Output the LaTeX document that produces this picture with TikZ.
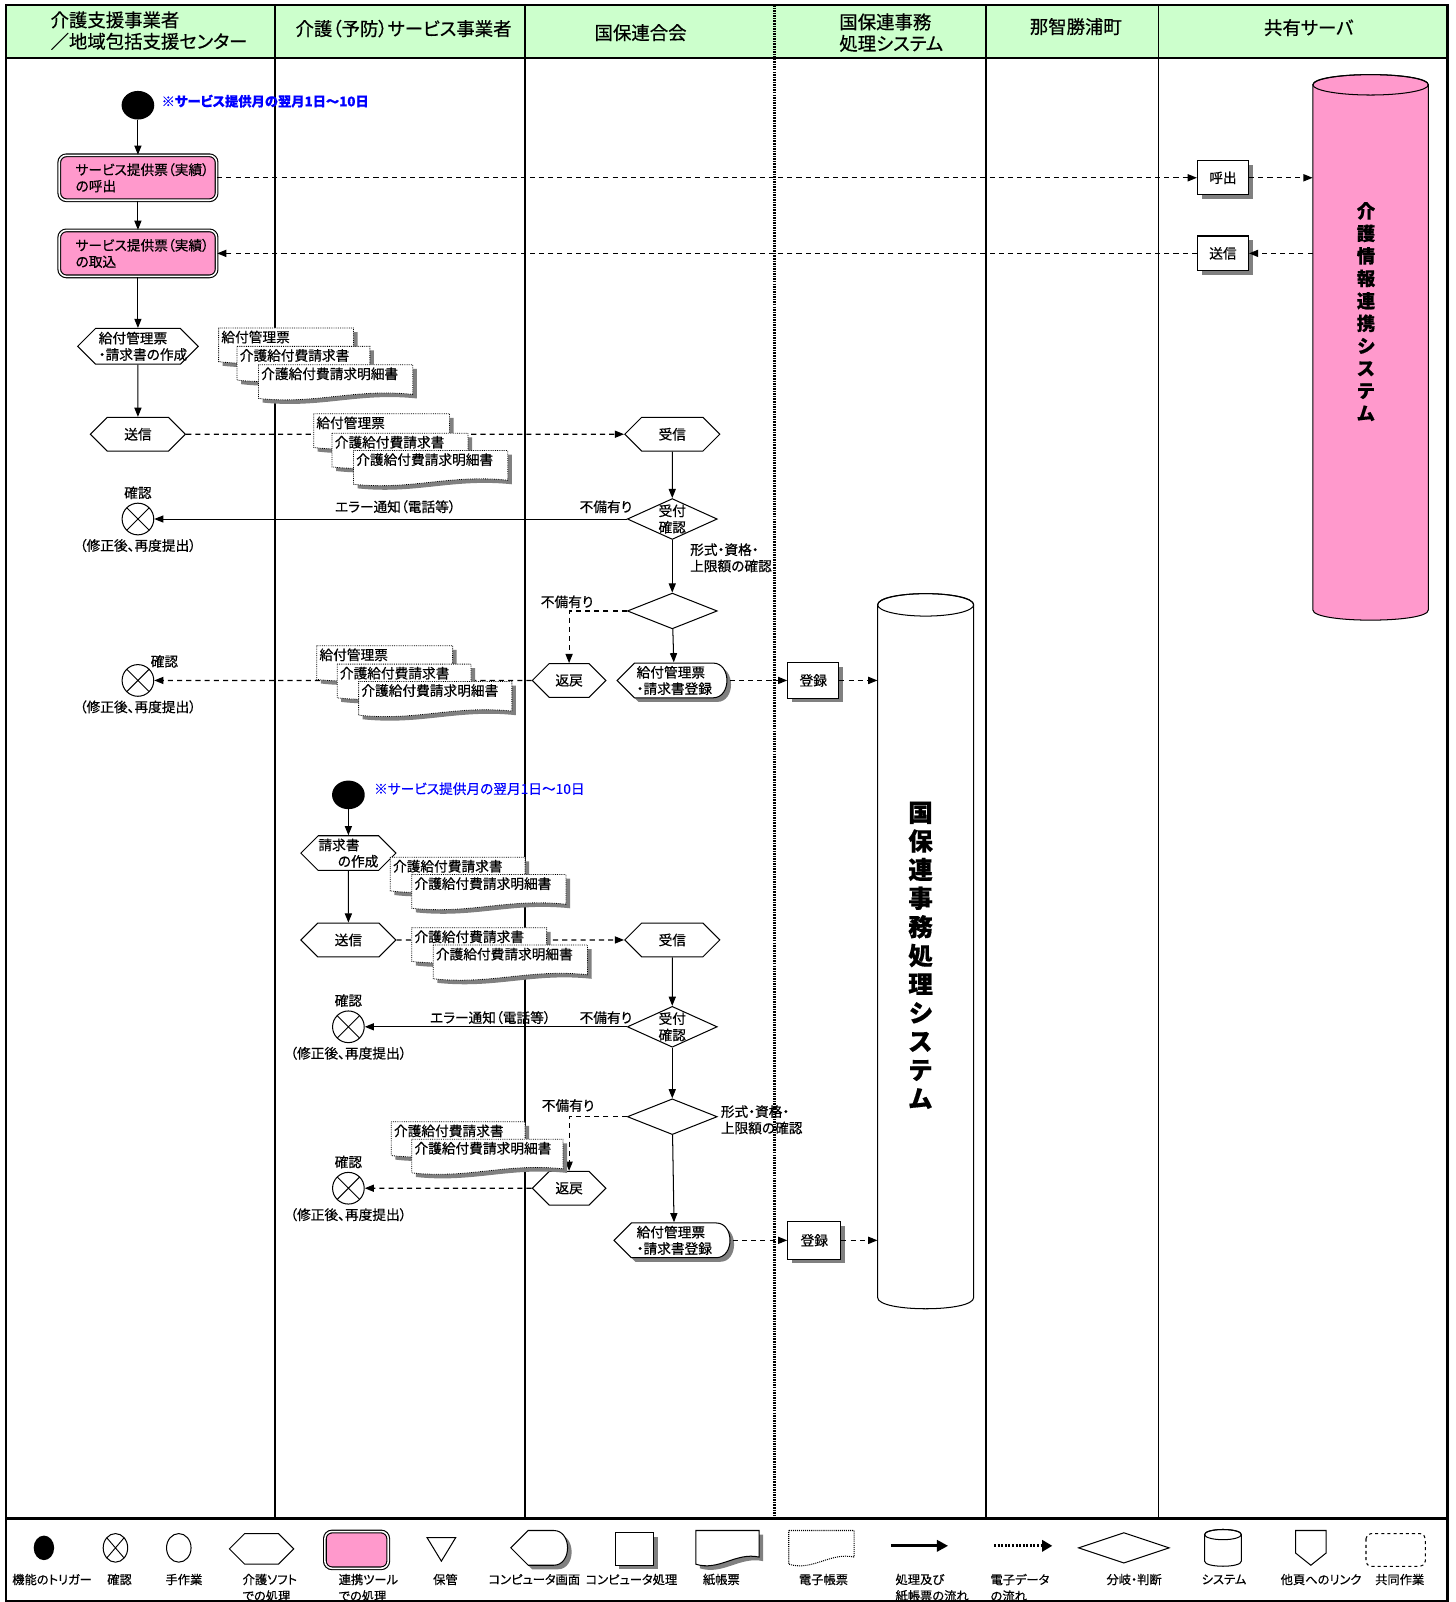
\documentclass[tikz,border=0pt]{standalone}
\usepackage{fontspec}
\setmainfont{Noto Sans CJK JP}[RawFeature=+palt, FakeBold=0.5]
\usetikzlibrary{arrows.meta, positioning, shapes.geometric, shapes.symbols, shadows}

\definecolor{headgreen}{HTML}{CCFFCC}
\definecolor{toolpink}{HTML}{FF99CC}
\definecolor{noteblue}{HTML}{0000FF}

\tikzset{
  lane/.style={line width=2pt},
  flow/.style={->, line width=1pt},
  eflow/.style={->, line width=1.1pt, dash pattern=on 5pt off 4pt},
  hdr/.style={font=\fontsize{18}{21}\selectfont, align=center},
  note/.style={text=noteblue, anchor=west, inner sep=0pt},
  trig/.style={fill=black, ellipse, minimum width=32pt, minimum height=28pt, inner sep=0pt},
  chk/.style={draw, ellipse, line width=1pt, minimum width=31pt, minimum height=31pt, inner sep=0pt,
    path picture={\draw[line width=0.9pt] (path picture bounding box.north west) -- (path picture bounding box.south east)
      (path picture bounding box.north east) -- (path picture bounding box.south west);}},
  softhex/.style={draw, line width=1pt, signal, signal to=east and west, signal pointer angle=90,
    minimum width=93pt, minimum height=33pt, inner sep=0pt},
  judge/.style={draw, diamond, line width=1pt, minimum width=88pt, minimum height=40pt, inner sep=0pt},
  toolbox/.style={draw, fill=toolpink, double=white, double distance=1.5pt, line width=1.1pt,
    rounded corners=7pt, minimum width=154pt, minimum height=44pt, align=left, inner sep=0pt},
  procbox/.style={draw, fill=white, line width=1pt, minimum width=50pt, minimum height=35pt, inner sep=0pt,
    drop shadow={shadow xshift=4pt, shadow yshift=-4pt, fill=black!50, opacity=1}},
  eformline/.style={densely dotted, line width=0.8pt, fill=white,
    drop shadow={shadow xshift=4pt, shadow yshift=-4pt, fill=black!50, opacity=1}},
  eformtext/.style={anchor=north west, inner sep=1.5pt},
  displine/.style={line width=1pt, fill=white,
    drop shadow={shadow xshift=4pt, shadow yshift=-4pt, fill=black!50, opacity=1}},
  disptext/.style={minimum height=35pt, inner sep=0pt, align=left},
  vtext/.style={font=\bfseries\fontsize{24}{28}\selectfont, align=center},
  lgtext/.style={font=\fontsize{12}{16}\selectfont},
}

\begin{document}
\begin{tikzpicture}[x=1pt, y=-1pt, font=\fontsize{13.4}{16}\selectfont, >={Triangle[length=9pt, width=7pt]}]

% paper form: name, left, top, width, text
\def\eform#1#2#3#4#5{%
  \draw[eformline] (#2,#3) -- (#2+#4,#3) -- (#2+#4,#3+29)
    .. controls (#2+0.62*#4,#3+23) and (#2+0.38*#4,#3+39) .. (#2,#3+33) -- cycle;
  \node[eformtext] (#1) at (#2+1,#3+1) {#5};
}
% screen shape: name, centre x, centre y, width, text
\def\dispform#1#2#3#4#5{%
  \draw[displine] (#2-#4/2,#3) -- (#2-#4/2+17,#3-17) -- (#2+#4/2-14,#3-17)
    .. controls (#2+#4/2+4,#3-17) and (#2+#4/2+4,#3+17) .. (#2+#4/2-14,#3+17)
    -- (#2-#4/2+17,#3+17) -- cycle;
  \node[disptext, minimum width=#4pt] (#1) at (#2+2,#3) {#5};
}
% system drum: name, centre x, centre y, width, height, ry, fill
\def\sysdrum#1#2#3#4#5#6#7{%
  \node[minimum width=#4pt, minimum height=#5pt, inner sep=0pt] (#1) at (#2,#3) {};
  \draw[line width=1pt, fill=#7] (#2-#4/2,#3-#5/2+#6) -- (#2-#4/2,#3+#5/2-#6)
    .. controls (#2-#4/2,#3+#5/2+0.33*#6) and (#2+#4/2,#3+#5/2+0.33*#6) .. (#2+#4/2,#3+#5/2-#6)
    -- (#2+#4/2,#3-#5/2+#6)
    .. controls (#2+#4/2,#3-#5/2-0.33*#6) and (#2-#4/2,#3-#5/2-0.33*#6) .. (#2-#4/2,#3-#5/2+#6) -- cycle;
  \draw[line width=1pt] (#2,#3-#5/2+#6) ellipse [x radius=#4/2, y radius=#6];
}

\useasboundingbox (0,0) rectangle (1425,1568);

% header band
\fill[headgreen] (6,5) rectangle (1417,57);
\node[hdr, align=left, anchor=west] (hd1) at (46,30) {介護支援事業者\\／地域包括支援センター};
\node[hdr] (hd2) at (395,28) {介護（予防）サービス事業者};
\node[hdr] (hd3) at (627,32) {国保連合会};
\node[hdr, align=left, anchor=west] (hd4) at (818,32) {国保連事務\\処理システム};
\node[hdr] (hd5) at (1053,26) {那智勝浦町};
\node[hdr] (hd6) at (1281,27) {共有サーバ};

% frame and lanes
\draw[line width=2.5pt] (6,5) rectangle (1417,1567);
\draw[lane] (6,57) -- (1417,57);
\draw[line width=2.5pt] (6,1486) -- (1417,1486);
\draw[lane] (269,5) -- (269,1486);
\draw[lane] (514,5) -- (514,1486);
\draw[line width=2.5pt, dash pattern=on 1.5pt off 1pt] (758,5) -- (758,1486);
\draw[lane] (965,5) -- (965,1486);
\draw[line width=1pt] (1134,5) -- (1134,1486);

% systems
\sysdrum{ksys}{1341.5}{340}{113}{534}{10}{toolpink}
\node[vtext, font=\bfseries\fontsize{18}{22}\selectfont] (ksystxt) at (1337,305) {介\\護\\情\\報\\連\\携\\シ\\ス\\テ\\ム};
\sysdrum{kdb}{906}{931}{94}{700}{11}{white}
\node[vtext] (kdbtxt) at (901,935) {国\\保\\連\\事\\務\\処\\理\\シ\\ス\\テ\\ム};

% upper flow
\node[trig] (st1) at (135,103) {};
\node[note, font=\bfseries\fontsize{13}{16}\selectfont] (nt1) at (158,99) {※サービス提供月の翌月1日～10日};
\node[toolbox, text width=122pt] (call1) at (135,174) {サービス提供票（実績）\\の呼出};
\node[toolbox, text width=122pt, minimum height=45pt] (take1) at (135,248) {サービス提供票（実績）\\の取込};
\node[softhex, minimum width=118pt, minimum height=35pt,
  label={[align=left, xshift=5pt]center:{給付管理票\\・請求書の作成}}] (make1) at (135,339) {};
\node[softhex] (send1) at (135,425) {送信};
\node[softhex] (recv1) at (658,425) {受信};
\node[judge, label={[align=center]center:{受付\\確認}}] (judge1) at (658,508) {};
\node[chk, label={above:確認}, label={below:（修正後、再度提出）}] (chk1) at (135,508) {};
\node[judge, minimum height=35pt] (judge2) at (658,598) {};
\node[softhex, minimum width=72pt] (back1) at (557,666) {返戻};
\dispform{disp1}{658}{666}{108}{給付管理票\\・請求書登録}
\node[procbox] (reg1) at (796,666) {登録};
\node[chk, label={[anchor=south west, inner sep=1pt]north east:確認}, label={below:（修正後、再度提出）}] (chk2) at (135,666) {};

\node (err1) at (387,496) {エラー通知（電話等）};
\node (ng1) at (593,496) {不備有り};
\node[anchor=west, align=left] (cond1) at (672,546) {形式・資格・\\上限額の確認};
\node (ng2) at (555,589) {不備有り};

% shared server
\node[procbox, minimum height=33pt] (srvcall) at (1197,174) {呼出};
\node[procbox, minimum height=34pt] (srvsend) at (1197,248) {送信};

% lower flow
\node[trig] (st2) at (341,778) {};
\node[note] (nt2) at (366,772) {※サービス提供月の翌月1日～10日};
\node[softhex, minimum height=34pt,
  label={[align=left]center:{請求書\\\hspace*{19pt}の作成}}] (make2) at (341,835) {};
\node[softhex] (send2) at (341,920) {送信};
\node[softhex] (recv2) at (658,920) {受信};
\node[judge, label={[align=center]center:{受付\\確認}}] (judge3) at (658,1005) {};
\node[chk, label={above:確認}, label={below:（修正後、再度提出）}] (chk3) at (341,1005) {};
\node[judge, minimum height=35pt] (judge4) at (658,1093) {};
\node[softhex, minimum width=72pt] (back2) at (557,1163) {返戻};
\node[chk, label={above:確認}, label={below:（修正後、再度提出）}] (chk4) at (341,1163) {};
\dispform{disp2}{658}{1214}{114}{給付管理票\\・請求書登録}
\node[procbox, minimum width=52pt, minimum height=37pt] (reg2) at (797,1214) {登録};

\node (err2) at (480,996) {エラー通知（電話等）};
\node (ng3) at (593,996) {不備有り};
\node[anchor=west, align=left] (cond2) at (702,1096) {形式・資格・\\上限額の確認};
\node (ng4) at (556,1082) {不備有り};

% connectors upper
\draw[flow] (st1) -- (call1);
\draw[flow] (call1) -- (take1);
\draw[flow] (take1) -- (make1);
\draw[flow] (make1) -- (send1);
\draw[eflow] (send1) -- (recv1);
\draw[flow] (recv1) -- (judge1);
\draw[flow] (judge1) -- (chk1);
\draw[flow] (judge1) -- (judge2);
\draw[eflow] (judge2.west) -| (back1.north);
\draw[flow] (judge2) -- (disp1);
\draw[eflow] (disp1) -- (reg1);
\draw[eflow] (reg1) -- (reg1 -| kdb.west);
\draw[eflow] (back1) -- (chk2);
\draw[eflow] (call1) -- (srvcall);
\draw[eflow] (srvcall) -- (srvcall -| ksys.west);
\draw[eflow] (srvsend -| ksys.west) -- (srvsend);
\draw[eflow] (srvsend) -- (take1);

% connectors lower
\draw[flow] (st2) -- (make2);
\draw[flow] (make2) -- (send2);
\draw[eflow] (send2) -- (recv2);
\draw[flow] (recv2) -- (judge3);
\draw[flow] (judge3) -- (chk3);
\draw[flow] (judge3) -- (judge4);
\draw[eflow] (judge4.west) -| (back2.north);
\draw[flow] (judge4) -- (disp2);
\draw[eflow] (disp2) -- (reg2);
\draw[eflow] (reg2) -- (reg2 -| kdb.west);
\draw[eflow] (back2) -- (chk4);

% paper forms
\eform{fmA1}{214}{321}{132}{給付管理票}
\eform{fmA2}{232}{339}{130}{介護給付費請求書}
\eform{fmA3}{253}{357}{151}{介護給付費請求明細書}
\eform{fmB1}{307}{405}{133}{給付管理票}
\eform{fmB2}{325}{424}{133}{介護給付費請求書}
\eform{fmB3}{346}{441}{151}{介護給付費請求明細書}
\eform{fmC1}{310}{632}{133}{給付管理票}
\eform{fmC2}{330}{650}{131}{介護給付費請求書}
\eform{fmC3}{351}{667}{150}{介護給付費請求明細書}
\eform{fmD1}{382}{839}{132}{介護給付費請求書}
\eform{fmD2}{403}{856}{151}{介護給付費請求明細書}
\eform{fmE1}{403}{908}{132}{介護給付費請求書}
\eform{fmE2}{424}{925}{151}{介護給付費請求明細書}
\eform{fmF1}{383}{1098}{131}{介護給付費請求書}
\eform{fmF2}{403}{1115}{148}{介護給付費請求明細書}

% legend symbols
\node[trig, minimum width=20pt, minimum height=24pt] (lgtrig) at (43,1515) {};
\node[chk, minimum width=24pt, minimum height=28pt] (lgchk) at (113,1515) {};
\node[draw, ellipse, line width=1pt, minimum width=24pt, minimum height=28pt] (lgman) at (175,1515) {};
\node[softhex, minimum width=63pt, minimum height=30pt] (lghex) at (256,1516) {};
\node[toolbox, minimum width=62pt, minimum height=36pt] (lgtool) at (349,1517) {};
\draw[line width=1pt] (418,1505) -- (446,1505) -- (432,1528) -- cycle;
\dispform{lgdisp}{528}{1515}{56}{}
\node[procbox, minimum width=38pt, minimum height=32pt] (lgproc) at (621,1516) {};
\draw[displine] (681,1498) -- (743,1498) -- (743,1524)
  .. controls (720,1519) and (704,1538) .. (681,1531) -- cycle;
\draw[densely dotted, line width=1pt] (772,1498) -- (836,1498) -- (836,1524)
  .. controls (812,1519) and (796,1538) .. (772,1531) -- cycle;
\draw[line width=3pt, -{Triangle[length=11pt, width=11pt]}] (872,1513) -- (928,1513);
\draw[line width=3pt, dash pattern=on 2pt off 1.5pt, -{Triangle[length=10pt, width=11pt]}] (973,1513) -- (1030,1513);
\node[judge, minimum width=89pt, minimum height=30pt] (lgjudge) at (1100,1515) {};
\sysdrum{lgsys}{1197}{1515}{36}{36}{5}{white}
\draw[line width=1pt] (1268,1498) -- (1298,1498) -- (1298,1520) -- (1283,1532) -- (1268,1520) -- cycle;
\draw[line width=1pt, dashed, rounded corners=5pt] (1337,1501) rectangle (1395,1533);

% legend text
\node[lgtext] (lgl1) at (51,1546) {機能のトリガー};
\node[lgtext] (lgl2) at (117,1546) {確認};
\node[lgtext] (lgl3) at (180,1546) {手作業};
\node[lgtext, anchor=west, align=left] (lgl4) at (234,1554) {介護ソフト\\での処理};
\node[lgtext, anchor=west, align=left] (lgl5) at (328,1554) {連携ツール\\での処理};
\node[lgtext] (lgl6) at (436,1546) {保管};
\node[lgtext] (lgl7) at (523,1546) {コンピュータ画面};
\node[lgtext] (lgl8) at (618,1546) {コンピュータ処理};
\node[lgtext] (lgl9) at (706,1546) {紙帳票};
\node[lgtext] (lgl10) at (806,1546) {電子帳票};
\node[lgtext, anchor=west, align=left] (lgl11) at (873,1554) {処理及び\\紙帳票の流れ};
\node[lgtext, anchor=west, align=left] (lgl12) at (966,1554) {電子データ\\の流れ};
\node[lgtext] (lgl13) at (1110,1546) {分岐・判断};
\node[lgtext] (lgl14) at (1198,1546) {システム};
\node[lgtext] (lgl15) at (1293,1546) {他頁へのリンク};
\node[lgtext] (lgl16) at (1370,1546) {共同作業};

\end{tikzpicture}
\end{document}
